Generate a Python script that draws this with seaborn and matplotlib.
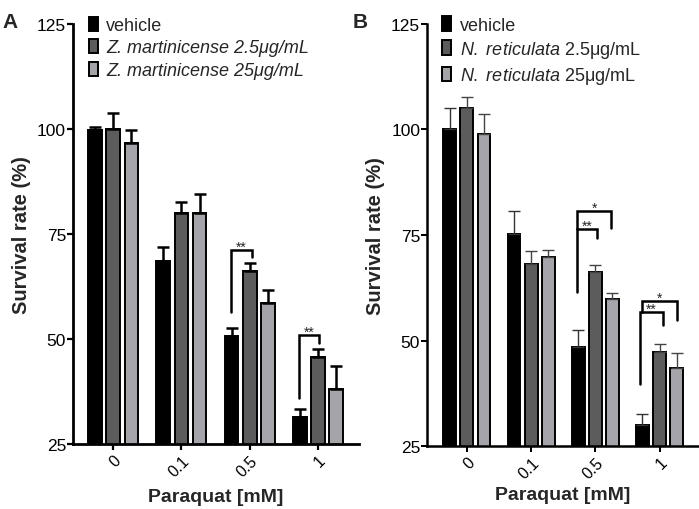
import matplotlib
matplotlib.use("Agg")
import matplotlib.pyplot as plt
from matplotlib.container import BarContainer
import seaborn as sns
import pandas as pd
import numpy as np

sns.set_theme(style="ticks")
plt.rcParams['font.family'] = ['Liberation Sans', 'DejaVu Sans']
plt.rcParams['mathtext.fontset'] = 'custom'
plt.rcParams['mathtext.rm'] = 'Liberation Sans'
plt.rcParams['mathtext.it'] = 'Liberation Sans:italic'
plt.rcParams['mathtext.bf'] = 'Liberation Sans:bold'

# ---- data ----
doses = ["0", "0.1", "0.5", "1"]
groups_a = ["vehicle", "Z. martinicense 2.5μg/mL", "Z. martinicense 25μg/mL"]
groups_b = ["vehicle", r"$\it{N.}$ $\it{reticulata}$ 2.5μg/mL", r"$\it{N.}$ $\it{reticulata}$ 25μg/mL"]

a_vehicle = [99.8, 68.5, 50.6, 31.5]
a_low = [100.0, 80.0, 66.2, 45.8]
a_high = [96.6, 80.0, 58.5, 38.0]
a_vehicle_err = [0.7, 3.5, 2.1, 1.8]
a_low_err = [3.8, 2.6, 2.0, 1.8]
a_high_err = [3.1, 4.6, 3.2, 5.6]

b_vehicle = [100.0, 75.2, 48.5, 30.0]
b_low = [105.2, 68.1, 66.2, 47.3]
b_high = [99.0, 69.8, 59.8, 43.6]
b_vehicle_err = [5.2, 5.5, 4.0, 2.7]
b_low_err = [2.5, 3.1, 1.7, 1.8]
b_high_err = [4.6, 1.6, 1.5, 3.4]

# significance brackets: (dose index, x_left_offset, x_right_offset, top, left_bottom, right_bottom, label)
brackets_a = [
    (2, -0.27, 0.03, 71.3, 56.4, 69.5, "**"),
    (3, -0.28, 0.01, 51.0, 36.0, 49.0, "**"),
]
brackets_b = [
    (2, -0.28, 0.03, 76.4, 61.4, 74.3, "**"),
    (2, -0.28, 0.24, 80.8, 76.4, 76.6, "*"),
    (3, -0.31, 0.05, 56.7, 39.7, 53.7, "**"),
    (3, -0.28, 0.27, 59.3, 56.7, 54.9, "*"),
]

colors = ["#000000", "#5c5c5c", "#a4a4aa"]

fig = plt.figure(figsize=(6.99, 5.10), dpi=100)
ax_a = fig.add_axes([0.1044, 0.1275, 0.409, 0.8235])
ax_b = fig.add_axes([0.611, 0.1235, 0.3877, 0.8275])


def panel(ax, groups, vals, errs, brackets, lw_spine, err_lw, err_colors,
          italic_all, xlim, leg_x, xpad):
    df = pd.DataFrame({
        "dose": np.repeat([doses], 3, axis=0).ravel(),
        "group": np.repeat(groups, len(doses)),
        "value": np.concatenate(vals),
    })
    sns.barplot(data=df, x="dose", y="value", hue="group", order=doses,
                hue_order=groups, palette=colors, errorbar=None, gap=0.25,
                edgecolor="black", linewidth=1.4, saturation=1, ax=ax)
    bar_conts = [c for c in ax.containers if isinstance(c, BarContainer)]
    for ci, cont in enumerate(bar_conts):
        for bi, bar in enumerate(list(cont.patches)):
            xc = bar.get_x() + bar.get_width() / 2
            ax.errorbar(xc, vals[ci][bi], yerr=[[0], [errs[ci][bi]]],
                        fmt="none", ecolor=err_colors[ci], elinewidth=err_lw,
                        capsize=4.5, capthick=err_lw, zorder=1)
    for (di, xl, xr, top, lb, rb, lab) in brackets:
        x0, x1 = di + xl, di + xr
        ax.plot([x0, x0, x1, x1], [lb, top, top, rb], color="black", lw=1.8,
                solid_joinstyle="miter", zorder=5)
        ax.text((x0 + x1) / 2, top - 0.2, lab, ha="center", va="baseline",
                fontsize=10)
    ax.set_ylim(25, 125)
    ax.set_xlim(*xlim)
    ax.set_yticks([25, 50, 75, 100, 125])
    ax.tick_params(axis="both", length=4, width=lw_spine * 0.8,
                   colors="black", pad=2)
    ax.tick_params(axis="y", labelsize=12.5, pad=1)
    ax.tick_params(axis="x", labelsize=11.5)
    for lab in ax.get_xticklabels():
        lab.set_rotation(45)
        lab.set_ha("right")
        lab.set_rotation_mode("anchor")
    sns.despine(ax=ax)
    for s in ["left", "bottom"]:
        ax.spines[s].set_linewidth(lw_spine)
        ax.spines[s].set_color("black")
    ax.set_xlabel("Paraquat [mM]", fontsize=14, fontweight="bold", labelpad=xpad)
    ax.set_ylabel("Survival rate (%)", fontsize=14.5, fontweight="bold", labelpad=4)
    leg = ax.legend(loc="upper left", bbox_to_anchor=(leg_x, 1.035), frameon=False,
                    fontsize=13, handlelength=0.5, handleheight=0.85,
                    handletextpad=0.45, labelspacing=0.28, borderaxespad=0)
    if italic_all:
        for t in leg.get_texts()[1:]:
            t.set_fontstyle("italic")
    return ax


panel(ax_a, groups_a, [a_vehicle, a_low, a_high],
      [a_vehicle_err, a_low_err, a_high_err], brackets_a, 2.0, 1.8,
      ["black", "black", "black"], True, (-0.59, 3.6), 0.03, 7)
panel(ax_b, groups_b, [b_vehicle, b_low, b_high],
      [b_vehicle_err, b_low_err, b_high_err], brackets_b, 1.8, 1.0,
      ["#333333", "#444444", "#444444"], False, (-0.62, 3.6), 0.03, 4)

fig.text(0.004, 0.975, "A", fontsize=15, fontweight="bold", va="top", ha="left")
fig.text(0.505, 0.975, "B", fontsize=15, fontweight="bold", va="top", ha="left")

fig.savefig("out.png", dpi=100)
